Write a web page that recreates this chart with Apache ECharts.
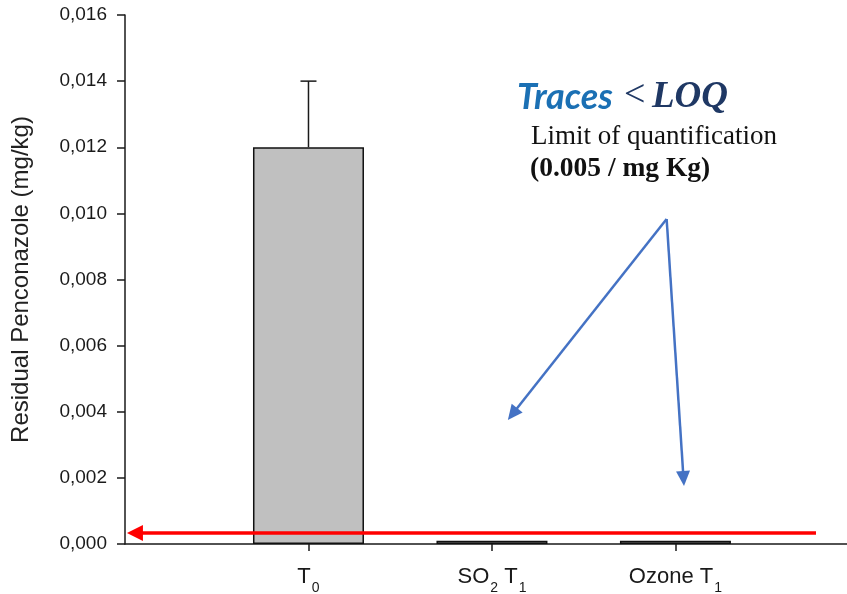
<!DOCTYPE html>
<html>
<head>
<meta charset="utf-8">
<script src="https://cdn.jsdelivr.net/npm/echarts@6/dist/echarts.min.js"></script>
<style>
  html, body { margin: 0; padding: 0; background: #fff; }
  #chart { width: 847px; height: 594px; }
</style>
</head>
<body>
<div id="chart"></div>
<script>
// Treatments (x positions 1..3 on the category scale)
const categories = ['T0', 'SO2 T1', 'Ozone T1'];
const positions = [1, 2, 3];
// Residual penconazole, mg/kg
const residues = [0.012, 0.0001, 0.0001];
// Upper end of the error bar (mean + SD)
const errorTop = [0.014, null, null];
// Y axis ticks
const yMin = 0, yMax = 0.016, yStep = 0.002;

// LOQ reference arrow (red) and pointer arrows (blue), in data units
const loqArrow = { y: 0.000333, xFrom: 3.766, xTo: 0.054 };
const pointerStart = [2.952, 0.00983];
const pointerEnds = [[2.112, 0.00393], [3.044, 0.00198]];

// rich-text labels with subscripts
const labelRich = {
  1: '{a|T}{s|0}',
  2: '{a|SO}{s|2}{a| T}{s|1}',
  3: '{a|Ozone T}{s|1}'
};

const barData = positions.map((p, i) => [p, residues[i]]);
const errData = positions
  .map((p, i) => [p, residues[i], errorTop[i]])
  .filter(d => d[2] != null);

const chart = echarts.init(document.getElementById('chart'), null, { renderer: 'canvas' });

const axisColor = '#1a1a1a';
const sans = 'Liberation Sans, Arial, sans-serif';
const serif = 'Liberation Serif, Times New Roman, serif';

chart.setOption({
  animation: false,
  backgroundColor: '#ffffff',
  grid: { left: 125, right: 0, top: 15, bottom: 50, containLabel: false, outerBoundsMode: 'none' },
  xAxis: {
    type: 'value',
    min: 0,
    max: 3.935,
    interval: 1,
    splitLine: { show: false },
    axisLine: { show: true, onZero: false, lineStyle: { color: axisColor, width: 1.5 } },
    axisTick: { show: true, length: 7, customValues: positions, lineStyle: { color: axisColor, width: 1.5 } },
    axisLabel: {
      customValues: positions,
      margin: 20,
      formatter: v => labelRich[Math.round(v)] || '',
      rich: {
        a: { fontFamily: sans, fontSize: 22, color: '#1a1a1a', lineHeight: 24, verticalAlign: 'bottom' },
        s: { fontFamily: sans, fontSize: 14, color: '#1a1a1a', lineHeight: 24, verticalAlign: 'bottom', padding: [0, 0, -7, 1] }
      }
    }
  },
  yAxis: {
    type: 'value',
    min: yMin,
    max: yMax,
    interval: yStep,
    name: 'Residual Penconazole (mg/kg)',
    nameLocation: 'middle',
    nameGap: 92,
    nameTextStyle: { fontFamily: sans, fontSize: 24, color: '#222' },
    splitLine: { show: false },
    axisLine: { show: true, lineStyle: { color: axisColor, width: 1.5 } },
    axisTick: { show: true, length: 8, lineStyle: { color: axisColor, width: 1.5 } },
    axisLabel: {
      margin: 18,
      fontFamily: sans,
      fontSize: 19,
      color: '#1a1a1a',
      formatter: v => v.toFixed(3).replace('.', ',')
    }
  },
  series: [
    {
      type: 'bar',
      data: barData,
      barWidth: 111,
      itemStyle: { color: '#c0c0c0', borderColor: '#111', borderWidth: 1.5 },
      silent: true,
      z: 2
    },
    {
      type: 'custom',
      data: errData,
      silent: true,
      z: 3,
      renderItem: (params, api) => {
        const base = api.coord([api.value(0), api.value(1)]);
        const top = api.coord([api.value(0), api.value(2)]);
        const half = 8;
        const style = { stroke: '#1a1a1a', lineWidth: 1.5 };
        return {
          type: 'group',
          children: [
            { type: 'line', shape: { x1: base[0], y1: base[1], x2: top[0], y2: top[1] }, style },
            { type: 'line', shape: { x1: top[0] - half, y1: top[1], x2: top[0] + half, y2: top[1] }, style }
          ]
        };
      }
    },
    {
      // LOQ level arrow
      type: 'line',
      data: [],
      silent: true,
      markLine: {
        silent: true,
        animation: false,
        symbol: ['none', 'triangle'],
        symbolSize: [16, 16],
        label: { show: false },
        emphasis: { disabled: true },
        lineStyle: { color: '#ff0000', width: 3.5, type: 'solid' },
        data: [[
          { coord: [loqArrow.xFrom, loqArrow.y] },
          { coord: [loqArrow.xTo, loqArrow.y] }
        ]]
      },
      z: 5
    },
    {
      // pointer arrows towards the treated samples
      type: 'line',
      data: [],
      silent: true,
      markLine: {
        silent: true,
        animation: false,
        symbol: ['none', 'triangle'],
        symbolSize: [14, 15],
        label: { show: false },
        emphasis: { disabled: true },
        lineStyle: { color: '#4472c4', width: 2.5, type: 'solid' },
        data: pointerEnds.map(e => [{ coord: pointerStart }, { coord: e }])
      },
      z: 5
    }
  ],
  graphic: [
    {
      type: 'text',
      x: 517,
      y: 97,
      style: {
        text: 'Traces', fontFamily: 'Lato, Open Sans, sans-serif', fontStyle: 'italic', fontWeight: 'bold',
        fontSize: 36, fill: '#1b70b4', verticalAlign: 'middle'
      }
    },
    {
      type: 'text',
      x: 624,
      y: 96,
      style: { text: '<', fontFamily: serif, fontSize: 38, fill: '#1f3864', verticalAlign: 'middle' }
    },
    {
      type: 'text',
      x: 652,
      y: 97,
      style: {
        text: 'LOQ', fontFamily: serif, fontStyle: 'italic', fontWeight: 'bold',
        fontSize: 37, fill: '#1f3864', verticalAlign: 'middle'
      }
    },
    {
      type: 'text',
      x: 531,
      y: 137,
      style: { text: 'Limit of quantification', fontFamily: serif, fontSize: 27, fill: '#111', verticalAlign: 'middle' }
    },
    {
      type: 'text',
      x: 530,
      y: 169,
      style: { text: '(0.005 / mg Kg)', fontFamily: serif, fontWeight: 'bold', fontSize: 27.5, fill: '#111', verticalAlign: 'middle' }
    }
  ]
});
</script>
</body>
</html>
